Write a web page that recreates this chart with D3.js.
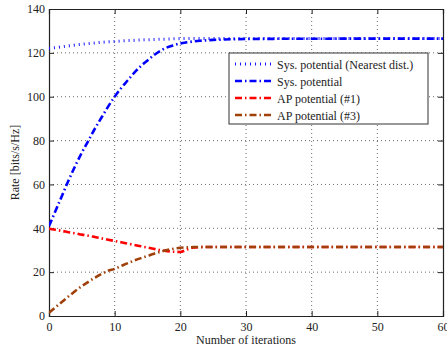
<!DOCTYPE html>
<html>
<head>
<meta charset="utf-8">
<script src="https://cdn.jsdelivr.net/npm/d3@7"></script>
<style>
  body { margin: 0; background: #fff; }
  svg text { font-family: "Liberation Serif", "DejaVu Serif", serif !important; }
</style>
</head>
<body>
<div id="chart"></div>
<script>
// Chart size
const width = 447;
const height = 347;
const margin = {top: 9, right: 4, bottom: 31, left: 49};
const serif = "'Liberation Serif', 'DejaVu Serif', serif";
const fontSize = 12;

// Data
const iterations = [0,1,2,3,4,5,6,7,8,9,10,11,12,13,14,15,16,17,18,19,20,21,22,23,24,25,26,28,30,35,40,45,50,55,60];
const sysNearest = [122.0,122.4,122.8,123.2,123.6,123.9,124.2,124.5,124.8,125.0,125.2,125.4,125.6,125.7,125.9,126.0,126.1,126.2,126.3,126.4,126.5,126.5,126.6,126.6,126.6,126.6,126.6,126.6,126.6,126.6,126.6,126.6,126.6,126.6,126.6];
const sysPotential = [41,48,55,62,68.5,74.5,80,85.5,90.5,95.5,100,104,107.5,111,114,116.5,119,121,122.5,123.5,124.3,124.8,125.2,125.5,125.7,125.9,126.0,126.2,126.3,126.4,126.4,126.5,126.5,126.5,126.5];
const apPotential1 = [39.8,39.3,38.8,38.2,37.7,37.1,36.6,36.0,35.4,34.8,34.2,33.6,33.0,32.4,31.8,31.2,30.6,30.0,29.6,29.3,29.2,30.3,31.2,31.4,31.5,31.5,31.5,31.5,31.5,31.5,31.5,31.5,31.5,31.5,31.5];
const apPotential3 = [1.5,4.0,6.5,9.0,11.4,13.6,15.6,17.5,19.2,20.6,21.5,22.8,24.1,25.3,26.4,27.4,28.4,29.3,30.1,30.7,31.1,31.3,31.4,31.5,31.5,31.5,31.5,31.5,31.5,31.5,31.5,31.5,31.5,31.5,31.5];

const seriesNames = ["Sys. potential (Nearest dist.)", "Sys. potential", "AP potential (#1)", "AP potential (#3)"];
const seriesValues = [sysNearest, sysPotential, apPotential1, apPotential3];
const seriesColors = ["#1a1aff", "#0000ff", "#ff0000", "#a0400a"];
const seriesDash = ["1,4", "7,3,1.5,3", "7,3,1.5,3", "7,3,1.5,3"];
const seriesWidth = [3, 2.6, 2.6, 2.6];

const xTicks = [0,10,20,30,40,50,60];
const yTicks = [0,20,40,60,80,100,120,140];

const svg = d3.select("#chart")
    .append("svg")
    .attr("width", width)
    .attr("height", height)
    .attr("font-family", serif);

const x = d3.scaleLinear().domain([0, 60]).range([margin.left, width - margin.right]);
const y = d3.scaleLinear().domain([0, 140]).range([height - margin.bottom, margin.top]);

const plotW = width - margin.right - margin.left;
const plotH = height - margin.bottom - margin.top;

// Grid lines
const grid = svg.append("g").attr("stroke", "#444").attr("stroke-width", 0.8).attr("stroke-dasharray", "1,3");
grid.selectAll(".gx").data(xTicks.slice(1, -1)).enter().append("line")
    .attr("x1", d => x(d)).attr("x2", d => x(d))
    .attr("y1", margin.top).attr("y2", height - margin.bottom);
grid.selectAll(".gy").data(yTicks.slice(1, -1)).enter().append("line")
    .attr("y1", d => y(d)).attr("y2", d => y(d))
    .attr("x1", margin.left).attr("x2", width - margin.right);

// Axes (ticks pointing inward, MATLAB style)
svg.append("g")
    .attr("transform", `translate(0,${height - margin.bottom})`)
    .call(d3.axisBottom(x).tickValues(xTicks).tickSize(-5).tickPadding(6));
svg.append("g")
    .attr("transform", `translate(${margin.left},0)`)
    .call(d3.axisLeft(y).tickValues(yTicks).tickSize(-5).tickPadding(4));
svg.append("g")
    .attr("transform", `translate(0,${margin.top})`)
    .call(d3.axisTop(x).tickValues(xTicks).tickSize(-5).tickFormat(""));
svg.append("g")
    .attr("transform", `translate(${width - margin.right},0)`)
    .call(d3.axisRight(y).tickValues(yTicks).tickSize(-5).tickFormat(""));

svg.selectAll("g").attr("font-family", serif);
svg.selectAll(".domain").attr("stroke", "#222").attr("stroke-width", 1.2);
svg.selectAll(".tick line").attr("stroke", "#222");
svg.selectAll(".tick text").attr("font-size", fontSize).attr("fill", "#222");

// Lines
const line = d3.line()
    .x((d, i) => x(iterations[i]))
    .y(d => y(d))
    .curve(d3.curveMonotoneX);

svg.append("clipPath").attr("id", "clip").append("rect")
    .attr("x", margin.left).attr("y", margin.top).attr("width", plotW).attr("height", plotH);

svg.append("g").attr("clip-path", "url(#clip)")
    .selectAll("path")
    .data(seriesValues)
    .enter()
    .append("path")
    .attr("d", line)
    .attr("fill", "none")
    .attr("stroke", (d, i) => seriesColors[i])
    .attr("stroke-width", (d, i) => seriesWidth[i])
    .attr("stroke-dasharray", (d, i) => seriesDash[i]);

// Legend
const legend = svg.append("g").attr("transform", "translate(229,53)");
legend.append("rect")
    .attr("width", 199).attr("height", 71)
    .attr("fill", "#fff").attr("stroke", "#333").attr("stroke-width", 1);
const items = legend.selectAll(".item").data(seriesNames).enter().append("g")
    .attr("transform", (d, i) => `translate(0,${11 + i * 17})`);
items.append("line")
    .attr("x1", 6).attr("x2", 42).attr("y1", 0).attr("y2", 0)
    .attr("stroke", (d, i) => seriesColors[i])
    .attr("stroke-width", (d, i) => seriesWidth[i])
    .attr("stroke-dasharray", (d, i) => seriesDash[i]);
items.append("text")
    .attr("x", 48).attr("y", 4.5)
    .attr("font-size", fontSize).attr("fill", "#222")
    .text(d => d);

// Axis labels
svg.append("text")
    .attr("x", (margin.left + width - margin.right) / 2)
    .attr("y", 344)
    .attr("text-anchor", "middle")
    .attr("font-size", fontSize).attr("fill", "#222")
    .text("Number of iterations");
svg.append("text")
    .attr("transform", `translate(19,${(margin.top + height - margin.bottom) / 2}) rotate(-90)`)
    .attr("text-anchor", "middle")
    .attr("font-size", fontSize).attr("fill", "#222")
    .text("Rate [bits/s/Hz]");
</script>
</body>
</html>
